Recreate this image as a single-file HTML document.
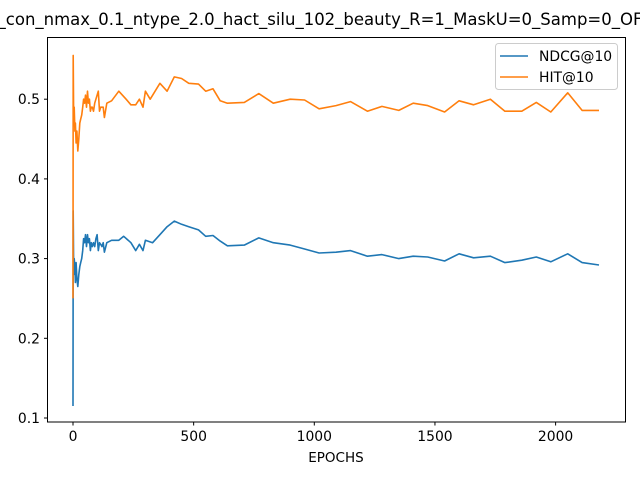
<!DOCTYPE html>
<html><head><meta charset="utf-8"><style>
body{margin:0;background:#fff;}
svg text{font-family:"DejaVu Sans","Liberation Sans",sans-serif;fill:#000;}
</style></head><body>
<svg id="chart" width="640" height="480" viewBox="0 0 640 480" xmlns="http://www.w3.org/2000/svg">
<rect width="640" height="480" fill="#fff"/>
<text x="320" y="25" font-size="16.5" text-anchor="middle">_con_nmax_0.1_ntype_2.0_hact_silu_102_beauty_R=1_MaskU=0_Samp=0_OF</text>
<g id="axes"></g>
<g id="series"></g>
<rect x="47.5" y="37.5" width="578" height="384.5" fill="none" stroke="#000" stroke-width="1"/>
<text x="336" y="462" font-size="13.5" text-anchor="middle">EPOCHS</text>
<g>
<rect x="495.5" y="43.5" width="122" height="46" rx="3" fill="#fff" fill-opacity="0.8" stroke="#ccc"/>
<line x1="500" y1="56" x2="528" y2="56" stroke="#1f77b4" stroke-width="1.5"/>
<text x="539" y="61" font-size="13.9">NDCG@10</text>
<line x1="500" y1="77" x2="528" y2="77" stroke="#ff7f0e" stroke-width="1.5"/>
<text x="539" y="82" font-size="13.9">HIT@10</text>
</g>
</svg>
<script>
const xTicks=[0,500,1000,1500,2000];
const yTicks=[0.1,0.2,0.3,0.4,0.5];
const hitEpochs=[0,1,3,5,8,10,13,16,20,24,28,32,36,40,44,48,52,56,60,64,68,72,76,80,85,90,95,100,105,110,115,120,125,130,140,160,190,220,240,260,275,290,300,320,360,390,420,450,480,520,550,580,610,640,710,770,830,900,960,1020,1090,1150,1220,1280,1350,1410,1470,1540,1600,1660,1730,1790,1860,1920,1980,2050,2110,2180];
const hitValues=[0.25,0.555,0.47,0.49,0.46,0.47,0.445,0.46,0.435,0.45,0.47,0.475,0.48,0.49,0.5,0.495,0.505,0.49,0.51,0.495,0.5,0.485,0.49,0.49,0.485,0.495,0.5,0.505,0.51,0.485,0.49,0.49,0.49,0.477,0.495,0.498,0.51,0.5,0.493,0.493,0.5,0.49,0.51,0.5,0.52,0.51,0.528,0.526,0.52,0.519,0.51,0.513,0.498,0.495,0.496,0.507,0.495,0.5,0.499,0.488,0.492,0.497,0.485,0.491,0.486,0.495,0.492,0.484,0.498,0.493,0.5,0.485,0.485,0.496,0.484,0.508,0.486,0.486];
const ndcgEpochs=[0,1,3,5,8,10,13,16,20,24,28,32,36,40,44,48,52,56,60,64,68,72,76,80,85,90,95,100,105,110,115,120,125,130,140,160,190,210,240,260,275,290,300,330,360,390,420,450,480,520,550,580,610,640,710,770,830,900,960,1020,1090,1150,1220,1280,1350,1410,1470,1540,1600,1660,1730,1790,1860,1920,1980,2050,2110,2180];
const ndcgValues=[0.115,0.36,0.28,0.3,0.29,0.27,0.295,0.275,0.265,0.28,0.29,0.295,0.3,0.31,0.325,0.32,0.33,0.315,0.33,0.32,0.325,0.31,0.32,0.315,0.32,0.315,0.325,0.33,0.31,0.32,0.318,0.315,0.32,0.308,0.32,0.323,0.323,0.328,0.32,0.31,0.318,0.31,0.323,0.32,0.33,0.34,0.347,0.343,0.34,0.336,0.328,0.329,0.322,0.316,0.317,0.326,0.32,0.317,0.312,0.307,0.308,0.31,0.303,0.305,0.3,0.303,0.302,0.297,0.306,0.301,0.303,0.295,0.298,0.302,0.296,0.306,0.295,0.292];

const X=e=>73+e*0.2413;
const Y=v=>418-(v-0.1)*797;
const NS="http://www.w3.org/2000/svg";
const axes=document.getElementById('axes');
xTicks.forEach(t=>{
  const l=document.createElementNS(NS,'line');
  l.setAttribute('x1',X(t));l.setAttribute('x2',X(t));l.setAttribute('y1',422);l.setAttribute('y2',425.5);l.setAttribute('stroke','#000');
  
  
  axes.appendChild(l);
  const tx=document.createElementNS(NS,'text');
  tx.setAttribute('x',X(t));tx.setAttribute('y',441);tx.setAttribute('font-size','13.9');tx.setAttribute('text-anchor','middle');
  tx.textContent=t;
  
  
  axes.appendChild(tx);
});
yTicks.forEach(t=>{
  const l=document.createElementNS(NS,'line');
  l.setAttribute('x1',44);l.setAttribute('x2',47.5);l.setAttribute('y1',Y(t));l.setAttribute('y2',Y(t));l.setAttribute('stroke','#000');
  
  
  axes.appendChild(l);
  const tx=document.createElementNS(NS,'text');
  tx.setAttribute('x',40);tx.setAttribute('y',Y(t)+5);tx.setAttribute('font-size','13.9');tx.setAttribute('text-anchor','end');
  tx.textContent=t.toFixed(1);
  
  
  axes.appendChild(tx);
});
const ser=document.getElementById('series');
function line(ep,vals,color,name){
  const p=document.createElementNS(NS,'polyline');
  p.setAttribute('points',ep.map((e,i)=>X(e).toFixed(1)+','+Y(vals[i]).toFixed(1)).join(' '));
  p.setAttribute('fill','none');p.setAttribute('stroke',color);p.setAttribute('stroke-width','1.6');p.setAttribute('stroke-linejoin','round');
  
  
  ser.appendChild(p);
}
line(ndcgEpochs,ndcgValues,'#1f77b4','ndcg-line');
line(hitEpochs,hitValues,'#ff7f0e','hit-line');
</script>
</body></html>
